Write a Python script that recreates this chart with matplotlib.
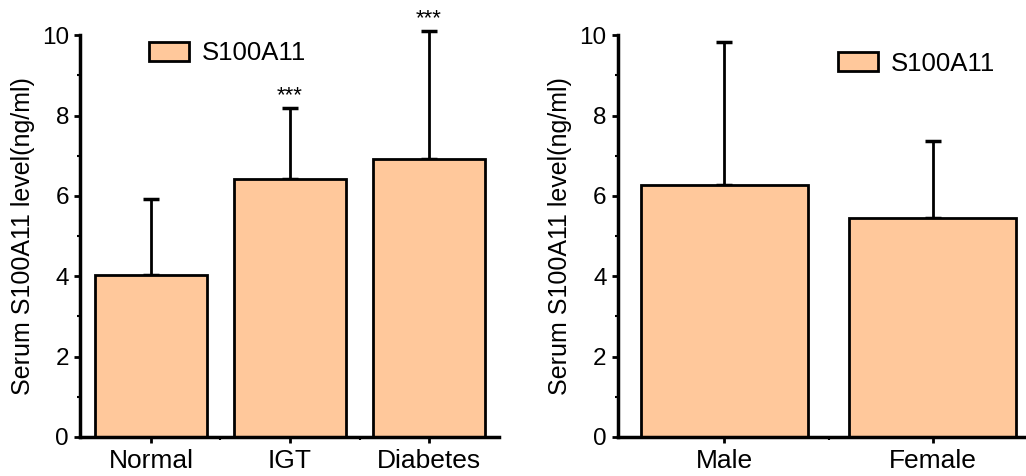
import matplotlib.pyplot as plt
import numpy as np

plt.rcParams['font.family'] = ['Liberation Sans', 'DejaVu Sans']

# datos del panel izquierdo (grupos de glucosa)
grupos = ['Normal', 'IGT', 'Diabetes']
media_grupos = [4.02, 6.42, 6.92]
err_grupos = [1.90, 1.77, 3.18]
marcas_grupos = ['', '***', '***']

# datos del panel derecho (sexo)
sexos = ['Male', 'Female']
media_sexos = [6.28, 5.46]
err_sexos = [3.55, 1.91]

color_barra = '#FFC89B'
etiqueta_y = 'Serum S100A11 level(ng/ml)'

fig = plt.figure(figsize=(10.26, 4.76), dpi=100)
ax1 = fig.add_axes([0.078, 0.082, 0.408, 0.844])
ax2 = fig.add_axes([0.602, 0.082, 0.409, 0.844])


def dibujar(ax, nombres, medias, errores, pos_leyenda):
    x = np.arange(len(nombres))
    ax.bar(x, medias, width=0.8, color=color_barra, edgecolor='black',
           linewidth=2, label='S100A11', zorder=2)
    barras = ax.errorbar(x, medias, yerr=[np.zeros(len(x)), errores], fmt='none',
                         ecolor='black', elinewidth=2, capsize=6, capthick=2.5,
                         zorder=1)
    for parte in barras.lines[1] + barras.lines[2]:
        parte.set_clip_on(False)
    ax.set_xlim(-0.51, len(nombres) - 0.5)
    ax.set_ylim(0, 10)
    ax.set_xticks(x)
    ax.set_xticklabels(nombres, fontsize=19)
    ax.set_xticks(np.arange(len(nombres) - 1) + 0.5, minor=True)
    ax.set_yticks(np.arange(0, 11, 2))
    ax.set_yticks(np.arange(1, 10, 2), minor=True)
    ax.tick_params(axis='y', labelsize=17.5, width=2, length=4, pad=4)
    ax.tick_params(axis='x', width=2, length=4, pad=5)
    ax.tick_params(which='minor', width=1.5, length=2.5)
    for lado in ['top', 'right']:
        ax.spines[lado].set_visible(False)
    for lado in ['left', 'bottom']:
        ax.spines[lado].set_linewidth(2.5)
    ax.set_ylabel(etiqueta_y, fontsize=18, labelpad=5)
    ax.legend(loc='upper left', bbox_to_anchor=pos_leyenda, fontsize=18.5,
              frameon=False, handlelength=1.55, handleheight=0.75,
              handletextpad=0.5, borderaxespad=0)
    return x


x1 = dibujar(ax1, grupos, media_grupos, err_grupos, (0.14, 1.01))
for xi, m, e, s in zip(x1, media_grupos, err_grupos, marcas_grupos):
    ax1.text(xi, m + e + 0.05, s, ha='center', va='bottom', fontsize=16,
             clip_on=False)

dibujar(ax2, sexos, media_sexos, err_sexos, (0.5, 0.985))

plt.savefig('out.png', dpi=100)
